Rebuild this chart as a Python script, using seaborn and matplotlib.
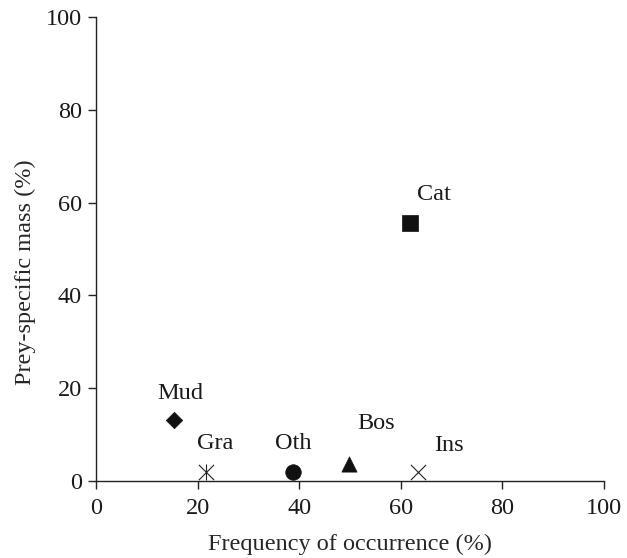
import matplotlib
matplotlib.use("Agg")
import matplotlib.pyplot as plt
import seaborn as sns
import pandas as pd

# Prey categories: frequency of occurrence vs prey-specific mass
prey = ["Cat", "Mud", "Gra", "Oth", "Bos", "Ins"]
freq_occurrence = [61.8, 15.4, 21.6, 38.8, 49.8, 63.4]
prey_mass = [55.6, 13.1, 1.9, 1.9, 3.7, 1.9]

df = pd.DataFrame({"prey": prey, "freq": freq_occurrence, "mass": prey_mass})

sns.set_style("ticks")
plt.rcParams["font.family"] = ["Liberation Serif", "DejaVu Serif"]
FS = 17.5
plt.rcParams["font.size"] = FS

fig = plt.figure(figsize=(6.27, 5.58), dpi=100)
ax = fig.add_axes([0.153, 0.138, 0.81, 0.8315])

filled = {"Cat": "s", "Mud": "D", "Oth": "o", "Bos": "^"}
sizes = {"Cat": 125, "Mud": 70, "Oth": 125, "Bos": 120}
for name, mk in filled.items():
    sub = df[df["prey"] == name]
    sns.scatterplot(data=sub, x="freq", y="mass", marker=mk, s=sizes[name],
                    color="#111111", edgecolor="#111111", linewidth=0.5,
                    ax=ax, legend=False, zorder=3, clip_on=False)

# Line-art markers
ins = df[df["prey"] == "Ins"]
sns.scatterplot(data=ins, x="freq", y="mass", marker="x", s=120,
                color="#222222", linewidth=0.8, ax=ax, legend=False,
                zorder=3, clip_on=False)
gra = df[df["prey"] == "Gra"]
for mk in ["x", "|"]:
    sns.scatterplot(data=gra, x="freq", y="mass", marker=mk, s=120,
                    color="#222222", linewidth=0.8, ax=ax, legend=False,
                    zorder=3, clip_on=False)

# Category labels placed beside each point (offsets in pixels)
offsets = {"Cat": (24, 29), "Mud": (6, 27), "Gra": (10, 29),
           "Oth": (0, 29), "Bos": (27, 40), "Ins": (31, 27)}
for name, xv, yv in zip(prey, freq_occurrence, prey_mass):
    dx, dy = offsets[name]
    ax.annotate(name, (xv, yv), xytext=(dx, dy), textcoords="offset pixels",
                ha="center", va="center", fontsize=FS, color="#1a1a1a")

ax.set_xlim(0, 100)
ax.set_ylim(0, 100)
ax.set_xticks([0, 20, 40, 60, 80, 100])
ax.set_yticks([0, 20, 40, 60, 80, 100])
ax.set_xlabel("Frequency of occurrence (%)", fontsize=FS, labelpad=11)
ax.set_ylabel("Prey-specific mass (%)", fontsize=FS, labelpad=7, y=0.45)
ax.tick_params(axis="both", direction="out", length=6, width=1,
               color="#222222", labelsize=FS, labelcolor="#1a1a1a")
ax.tick_params(axis="x", pad=6)
ax.tick_params(axis="y", pad=4)
for side in ["top", "right"]:
    ax.spines[side].set_visible(False)
for side in ["left", "bottom"]:
    ax.spines[side].set_linewidth(1)
    ax.spines[side].set_color("#222222")

fig.savefig("out.png", dpi=100, facecolor="white")
